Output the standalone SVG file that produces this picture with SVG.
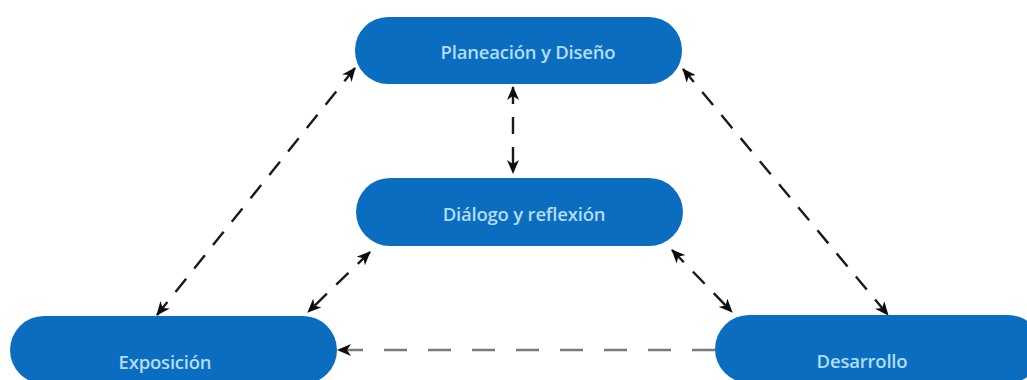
<svg xmlns="http://www.w3.org/2000/svg" width="1027" height="380" viewBox="0 0 1027 380">
<style>
.node rect{fill:#0a6dbf;}
.node text{fill:#b3dcf7;font-family:"Open Sans","Liberation Sans",sans-serif;font-size:18.5px;font-weight:600;letter-spacing:-0.2px;text-anchor:middle;dominant-baseline:central;}
.conn{stroke:#1a1a1a;stroke-width:2.4;fill:none;stroke-dasharray:17 13;}
.gray{stroke:#7a7a7a;stroke-width:2.6;stroke-dasharray:23 21;}
</style>
<defs>
<marker id="ah" viewBox="0 0 14 12" refX="13" refY="6" markerWidth="14" markerHeight="12" markerUnits="userSpaceOnUse" orient="auto-start-reverse">
<path d="M0,0 L14,6 L0,12 L4,6 Z" fill="#0d0d0d"/>
</marker>
</defs>
<rect width="1027" height="380" fill="#ffffff"/>
<g id="connectors">
<line class="conn" x1="355" y1="68" x2="157" y2="315" marker-start="url(#ah)" marker-end="url(#ah)"/>
<line class="conn" x1="370" y1="252" x2="308" y2="312" marker-start="url(#ah)" marker-end="url(#ah)"/>
<line class="conn" x1="683" y1="69" x2="888" y2="315" marker-start="url(#ah)" marker-end="url(#ah)"/>
<line class="conn" x1="672" y1="250" x2="732" y2="312" marker-start="url(#ah)" marker-end="url(#ah)"/>
<line class="conn" x1="513" y1="87" x2="513" y2="173" stroke-dasharray="10 12" marker-start="url(#ah)" marker-end="url(#ah)"/>
<line class="conn gray" x1="715" y1="350" x2="338" y2="350" marker-end="url(#ah)"/>
</g>
<g id="planeacion" class="node">
<rect x="355" y="17" width="327" height="67" rx="33"/>
<text x="528" y="51">Planeación y Diseño</text>
</g>
<g id="dialogo" class="node">
<rect x="356" y="178" width="327" height="68" rx="34"/>
<text x="524" y="213">Diálogo y reflexión</text>
</g>
<g id="exposicion" class="node">
<rect x="10" y="316" width="327" height="68" rx="34"/>
<text x="165" y="361">Exposición</text>
</g>
<g id="desarrollo" class="node">
<rect x="715" y="315" width="327" height="68" rx="34"/>
<text x="862" y="360">Desarrollo</text>
</g>
</svg>
